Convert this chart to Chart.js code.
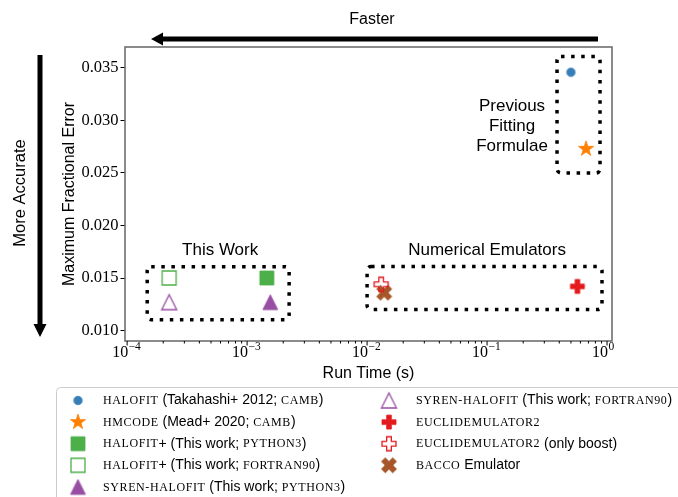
<!DOCTYPE html>
<html>
<head>
<meta charset="utf-8">
<script src="https://cdn.jsdelivr.net/npm/chart.js@4.4.0/dist/chart.umd.min.js"></script>
<style>
  html, body { margin: 0; padding: 0; background: #fff; }
  #wrap { width: 678px; height: 497px; }
</style>
</head>
<body>
<div id="wrap"><canvas id="chart" width="678" height="497"></canvas></div>
<script>
// values
const seriesNames = ["halofit", "hmcode", "halofit+ py3", "halofit+ f90", "syren py3",
                     "syren f90", "euclid", "euclid boost", "bacco"];
const runTime = [0.50, 0.668, 1.46e-3, 2.24e-4, 1.56e-3, 2.24e-4, 0.566, 0.0131, 0.0139];
const maxError = [0.0346, 0.0273, 0.0150, 0.0150, 0.0127, 0.0127, 0.0142, 0.0144, 0.0136];

// legend text, [text, smallCaps] pieces
const legendLabels = [
  [["halofit", 1], [" (Takahashi+ 2012; ", 0], ["camb", 1], [")", 0]],
  [["hmcode", 1], [" (Mead+ 2020; ", 0], ["camb", 1], [")", 0]],
  [["halofit", 1], ["+ (This work; ", 0], ["python3", 1], [")", 0]],
  [["halofit", 1], ["+ (This work; ", 0], ["fortran90", 1], [")", 0]],
  [["syren-halofit", 1], [" (This work; ", 0], ["python3", 1], [")", 0]],
  [["syren-halofit", 1], [" (This work; ", 0], ["fortran90", 1], [")", 0]],
  [["euclidemulator2", 1]],
  [["euclidemulator2", 1], [" (only boost)", 0]],
  [["bacco", 1], [" Emulator", 0]]
];

// dotted group boxes (data units)
const boxX0 = [0.383, 1.47e-4, 0.0100];
const boxX1 = [0.874, 2.24e-3, 0.908];
const boxY0 = [0.0250, 0.01103, 0.0120];
const boxY1 = [0.0361, 0.01608, 0.01609];
const groupLabels = [["Previous", "Fitting", "Formulae"], ["This Work"], ["Numerical Emulators"]];
const groupLabelX = [0.1615, 5.96e-4, 0.1];
const groupLabelY = [0.02944, 0.01763, 0.01763];

// axes
const xMajorTicks = [1e-4, 1e-3, 1e-2, 1e-1, 1];
const xTickExp = ["\u22124", "\u22123", "\u22122", "\u22121", "0"];
const xMinorSteps = [2, 3, 4, 5, 6, 7, 8, 9];
const yTicks = [0.010, 0.015, 0.020, 0.025, 0.030, 0.035];

// marker styles
const markerShape = ["circle", "star", "square", "square", "triangle", "triangle", "plus", "plus", "x"];
const markerColor = ["#377eb8", "#ff7f00", "#4daf4a", "#4daf4a", "#984ea3", "#984ea3", "#e41a1c", "#e41a1c", "#a65628"];
const markerFilled = [1, 1, 1, 0, 1, 0, 1, 0, 1];
const markerSize = [8.5, 16, 14, 14, 15, 15, 14, 14, 16];

const SANS = "'Liberation Sans', Arial, sans-serif";
const SERIF = "'Liberation Serif', 'DejaVu Serif', serif";

function makeMarker(shape, size, color, filled) {
  const dim = Math.ceil(size + 6);
  const c = document.createElement("canvas");
  c.width = dim;
  c.height = dim;
  const g = c.getContext("2d");
  const m = dim / 2, r = size / 2;
  g.beginPath();
  if (shape === "circle") {
    g.arc(m, m, r, 0, Math.PI * 2);
  } else if (shape === "square") {
    g.rect(m - r, m - r, size, size);
  } else if (shape === "triangle") {
    g.moveTo(m, m - r);
    g.lineTo(m + r, m + r);
    g.lineTo(m - r, m + r);
    g.closePath();
  } else if (shape === "star") {
    for (let k = 0; k < 10; k++) {
      const a = -Math.PI / 2 + k * Math.PI / 5;
      const rr = k % 2 ? r * 0.382 : r;
      const px = m + rr * Math.cos(a), py = m + rr * Math.sin(a);
      k ? g.lineTo(px, py) : g.moveTo(px, py);
    }
    g.closePath();
  } else {
    const pts = [[-1, -3], [1, -3], [1, -1], [3, -1], [3, 1], [1, 1], [1, 3], [-1, 3], [-1, 1], [-3, 1], [-3, -1], [-1, -1]];
    const rot = shape === "x" ? Math.PI / 4 : 0;
    const s = r / 3, cs = Math.cos(rot), sn = Math.sin(rot);
    pts.forEach(([px, py], k) => {
      const X = m + (px * cs - py * sn) * s, Y = m + (px * sn + py * cs) * s;
      k ? g.lineTo(X, Y) : g.moveTo(X, Y);
    });
    g.closePath();
  }
  g.strokeStyle = color;
  g.lineJoin = "miter";
  if (filled) {
    g.fillStyle = color;
    g.fill();
    g.lineWidth = 0.8;
    g.stroke();
  } else {
    g.lineWidth = 1.3;
    g.stroke();
  }
  return c;
}

const markers = seriesNames.map((_, i) => makeMarker(markerShape[i], markerSize[i], markerColor[i], markerFilled[i]));

function drawArrow(ctx, x0, y0, x1, y1, shaftW, headW, headL) {
  const ang = Math.atan2(y1 - y0, x1 - x0);
  const len = Math.hypot(x1 - x0, y1 - y0);
  ctx.save();
  ctx.translate(x0, y0);
  ctx.rotate(ang);
  ctx.beginPath();
  ctx.moveTo(0, -shaftW / 2);
  ctx.lineTo(len - headL, -shaftW / 2);
  ctx.lineTo(len - headL, -headW / 2);
  ctx.lineTo(len, 0);
  ctx.lineTo(len - headL, headW / 2);
  ctx.lineTo(len - headL, shaftW / 2);
  ctx.lineTo(0, shaftW / 2);
  ctx.closePath();
  ctx.fillStyle = "#000";
  ctx.fill();
  ctx.restore();
}

// small caps drawn as reduced capitals, digits included, like the LaTeX \textsc
function drawPieces(ctx, pieces, x, y) {
  pieces.forEach(([text, sc]) => {
    let t = text;
    if (sc) {
      t = text.toUpperCase();
      ctx.font = "12px " + SERIF;
      ctx.letterSpacing = "0.6px";
    } else {
      ctx.font = "14px " + SANS;
      ctx.letterSpacing = "0px";
    }
    ctx.fillText(t, x, y + (sc ? 0.5 : 0));
    x += ctx.measureText(t).width;
  });
  ctx.letterSpacing = "0px";
}

const decor = {
  id: "decor",
  beforeDatasetsDraw(chart) {
    const { ctx, scales: { x, y } } = chart;
    ctx.save();
    ctx.strokeStyle = "#000";
    ctx.lineWidth = 3.5;
    ctx.setLineDash([3.5, 6.6]);
    for (let i = 0; i < boxX0.length; i++) {
      const l = x.getPixelForValue(boxX0[i]), r = x.getPixelForValue(boxX1[i]);
      const t = y.getPixelForValue(boxY1[i]), b = y.getPixelForValue(boxY0[i]);
      ctx.beginPath();
      ctx.roundRect(l, t, r - l, b - t, 4);
      ctx.stroke();
    }
    ctx.restore();
  },
  afterDraw(chart) {
    const { ctx, chartArea: a, scales: { x, y } } = chart;
    ctx.save();

    // frame
    ctx.strokeStyle = "#6e6e6e";
    ctx.lineWidth = 1.6;
    ctx.strokeRect(a.left, a.top, a.right - a.left, a.bottom - a.top);

    // x ticks
    ctx.strokeStyle = "#000";
    ctx.lineWidth = 1;
    xMajorTicks.forEach((v, i) => {
      const px = x.getPixelForValue(v);
      ctx.beginPath();
      ctx.moveTo(px, a.bottom);
      ctx.lineTo(px, a.bottom + 4.5);
      ctx.stroke();
      ctx.fillStyle = "#000";
      ctx.textBaseline = "alphabetic";
      ctx.font = "16px " + SERIF;
      ctx.textAlign = "right";
      ctx.fillText("10", px + 1, 357);
      ctx.font = "11.5px " + SERIF;
      ctx.textAlign = "left";
      ctx.fillText(xTickExp[i], px + 1.5, 350);
      if (i < xMajorTicks.length - 1) {
        xMinorSteps.forEach(s => {
          const mx = x.getPixelForValue(v * s);
          ctx.beginPath();
          ctx.moveTo(mx, a.bottom);
          ctx.lineTo(mx, a.bottom + 2.5);
          ctx.stroke();
        });
      }
    });

    // axis titles
    ctx.fillStyle = "#000";
    ctx.font = "16px " + SANS;
    ctx.textAlign = "center";
    ctx.textBaseline = "middle";
    ctx.fillText("Run Time (s)", (a.left + a.right) / 2, 374);
    ctx.fillText("Faster", 372, 20);
    ctx.save();
    ctx.translate(70, (a.top + a.bottom) / 2);
    ctx.rotate(-Math.PI / 2);
    ctx.fillText("Maximum Fractional Error", 0, 0);
    ctx.restore();
    ctx.save();
    ctx.translate(20, 193);
    ctx.rotate(-Math.PI / 2);
    ctx.font = "16.5px " + SANS;
    ctx.fillText("More Accurate", 0, 0);
    ctx.restore();

    // arrows
    drawArrow(ctx, 598, 39, 151, 39, 5, 13, 12);
    drawArrow(ctx, 40, 55, 40, 337, 5, 13, 13);

    // group labels
    ctx.font = "17px " + SANS;
    groupLabels.forEach((lines, i) => {
      const px = x.getPixelForValue(groupLabelX[i]);
      const py = y.getPixelForValue(groupLabelY[i]);
      lines.forEach((t, k) => ctx.fillText(t, px, py + (k - (lines.length - 1) / 2) * 20));
    });

    // legend
    ctx.strokeStyle = "#cccccc";
    ctx.lineWidth = 1;
    ctx.fillStyle = "rgba(255,255,255,0.8)";
    ctx.beginPath();
    ctx.roundRect(56.5, 387.5, 660, 140, 4);
    ctx.fill();
    ctx.stroke();
    ctx.textAlign = "left";
    ctx.textBaseline = "middle";
    ctx.fillStyle = "#000";
    legendLabels.forEach((pieces, i) => {
      const col = i < 5 ? 0 : 1;
      const row = col ? i - 5 : i;
      const ly = 400.5 + row * 21.6;
      const mx = col ? 389 : 78;
      const tx = col ? 416 : 103;
      const mk = markers[i];
      ctx.drawImage(mk, mx - mk.width / 2, ly - mk.height / 2);
      drawPieces(ctx, pieces, tx, ly);
    });
    ctx.restore();
  }
};

const datasets = seriesNames.map((name, i) => ({
  label: name,
  data: [{ x: runTime[i], y: maxError[i] }],
  pointStyle: markers[i],
  pointRadius: 6,
  pointHoverRadius: 6
}));

new Chart(document.getElementById("chart"), {
  type: "scatter",
  data: { datasets },
  options: {
    responsive: false,
    animation: false,
    events: [],
    layout: { padding: { left: 0, right: 66, top: 47, bottom: 0 } },
    plugins: { legend: { display: false }, tooltip: { enabled: false } },
    scales: {
      x: {
        type: "logarithmic",
        min: 9.6e-5,
        max: 1.1,
        ticks: { display: false },
        grid: { display: false },
        border: { display: false },
        afterFit: s => { s.height = 156; }
      },
      y: {
        type: "linear",
        min: 0.009,
        max: 0.037,
        afterBuildTicks: s => { s.ticks = yTicks.map(v => ({ value: v })); },
        ticks: {
          callback: v => v.toFixed(3),
          font: { family: SERIF, size: 16.5 },
          color: "#000",
          padding: 2
        },
        grid: { drawOnChartArea: false, drawTicks: true, tickLength: 4.5, color: "#000", lineWidth: 1 },
        border: { display: false },
        afterFit: s => { s.width = 125; }
      }
    }
  },
  plugins: [decor]
});
</script>
</body>
</html>
